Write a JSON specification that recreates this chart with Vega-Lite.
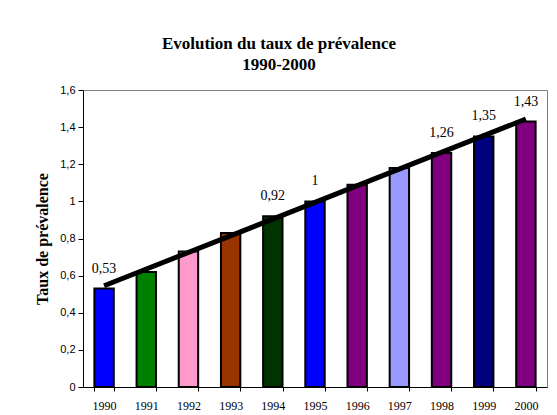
{
  "$schema": "https://vega.github.io/schema/vega-lite/v6.json",
  "width": 464,
  "height": 297,
  "autosize": {"type": "none"},
  "padding": {"left": 83, "top": 90, "right": 10, "bottom": 28},
  "background": "white",
  "config": {
    "view": {"stroke": "#808080", "strokeWidth": 1},
    "axis": {"grid": false, "domainColor": "black", "tickColor": "black", "labelColor": "black", "titleColor": "black"}
  },
  "title": {
    "text": ["Evolution du taux de prévalence", "1990-2000"],
    "font": "Liberation Serif",
    "fontSize": 17,
    "fontWeight": "bold",
    "color": "black",
    "lineHeight": 21,
    "anchor": "middle",
    "dx": -36,
    "offset": 10
  },
  "data": {
    "values": [
      {"year": 1990, "value": 0.53},
      {"year": 1991, "value": 0.62},
      {"year": 1992, "value": 0.73},
      {"year": 1993, "value": 0.83},
      {"year": 1994, "value": 0.92},
      {"year": 1995, "value": 1.0},
      {"year": 1996, "value": 1.09},
      {"year": 1997, "value": 1.18},
      {"year": 1998, "value": 1.26},
      {"year": 1999, "value": 1.35},
      {"year": 2000, "value": 1.43}
    ]
  },
  "encoding": {
    "x": {
      "field": "year",
      "type": "ordinal",
      "scale": {"paddingInner": 0.54, "paddingOuter": 0.27},
      "axis": {
        "title": null,
        "labelAngle": 0,
        "labelFont": "Liberation Serif",
        "labelFontSize": 12,
        "labelPadding": 9,
        "tickBand": "extent",
        "tickSize": 4,
        "domainWidth": 1
      }
    },
    "y": {
      "field": "value",
      "type": "quantitative",
      "scale": {"domain": [0, 1.6], "nice": false},
      "axis": {
        "title": "Taux de prévalence",
        "titleFont": "Liberation Serif",
        "titleFontSize": 16,
        "titleFontWeight": "bold",
        "titlePadding": 9,
        "labelFont": "Liberation Sans",
        "labelFontSize": 11,
        "values": [0, 0.2, 0.4, 0.6, 0.8, 1, 1.2, 1.4, 1.6],
        "labelExpr": "replace(format(datum.value, '~g'), '.', ',')",
        "tickSize": 5,
        "labelPadding": 3
      }
    }
  },
  "layer": [
    {
      "mark": {"type": "bar", "stroke": "black", "strokeWidth": 2},
      "encoding": {
        "color": {
          "field": "year",
          "type": "nominal",
          "scale": {
            "domain": [1990, 1991, 1992, 1993, 1994, 1995, 1996, 1997, 1998, 1999, 2000],
            "range": ["#0000FF", "#008000", "#FF99CC", "#993300", "#003300", "#0000FF", "#800080", "#9999FF", "#800080", "#000080", "#800080"]
          },
          "legend": null
        }
      }
    },
    {
      "transform": [{"regression": "value", "on": "year"}],
      "mark": {"type": "line", "color": "black", "strokeWidth": 5, "strokeCap": "butt"},
      "encoding": {}
    },
    {
      "transform": [
        {"filter": "indexof([1990, 1994, 1995, 1998, 1999, 2000], datum.year) >= 0"},
        {"calculate": "replace(toString(datum.value), '.', ',')", "as": "lab"}
      ],
      "mark": {"type": "text", "baseline": "bottom", "dy": -13, "font": "Liberation Serif", "fontSize": 14, "color": "black"},
      "encoding": {"text": {"field": "lab"}}
    }
  ]
}
